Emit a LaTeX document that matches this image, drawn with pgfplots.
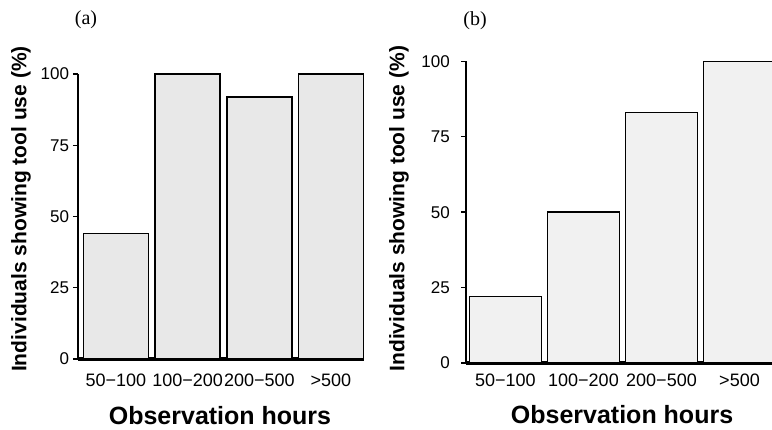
\documentclass[border=0pt]{standalone}
\usepackage{fontspec}
\setmainfont{Liberation Sans}
\newfontfamily\seriffont{Liberation Serif}
\usepackage{pgfplots}
\pgfplotsset{compat=1.18}
\pgfplotsset{
  toolaxis/.style={
    scale only axis,
    anchor=south west,
    axis x line*=bottom,
    axis y line*=left,
    every outer x axis line/.append style={-, line width=4pt},
    ymin=0, ymax=100,
    ytick={0,25,50,75,100},
    xtick={0,1,2,3},
    xticklabels={50−100,100−200,200−500,>500},
    tick align=outside,
    major tick length=5pt,
    xtick style={draw=none},
    ytick style={line width=1.4pt, black},
    /pgf/number format/assume math mode=true,
    yticklabel style={font=\fontsize{17}{20}\selectfont, anchor=east, inner sep=0pt},
    xticklabel style={font=\fontsize{18}{21}\selectfont, anchor=north, inner sep=0pt},
    ylabel={Individuals showing tool use (\%)},
    xlabel={Observation hours},
    ylabel style={font=\fontsize{21}{25}\selectfont\bfseries, anchor=center, inner sep=0pt},
    xlabel style={font=\fontsize{25}{30}\selectfont\bfseries, anchor=center, inner sep=0pt},
    clip=false,
  }
}
\begin{document}
\begin{tikzpicture}
\path[use as bounding box] (0pt,0pt) rectangle (772pt,429pt);
% panel (a)
\begin{axis}[toolaxis,
  at={(78pt,70pt)}, width=286pt, height=285pt,
  every outer y axis line/.append style={-, line width=1.8pt},
  xmin=-0.530, xmax=3.461,
  yticklabel style={xshift=-3.7pt},
  xticklabel style={yshift=-10pt},
  ylabel style={at={(axis description cs:-0.1993,0.526)}},
  xlabel style={at={(axis description cs:0.4965,-0.1980)}},
]
\addplot[ybar, bar width=0.907, fill=gray!18, draw=black, line width=1.5pt]
  coordinates {(0,44) (1,100) (2,92) (3,100)};
\end{axis}
% panel (b)
\begin{axis}[toolaxis,
  at={(466pt,66pt)}, width=314pt, height=301.7pt,
  every outer y axis line/.append style={-, line width=2.8pt},
  xmin=-0.506, xmax=3.519,
  yticklabel style={xshift=-11pt},
  xticklabel style={yshift=-6pt},
  ylabel style={at={(axis description cs:-0.2134,0.5116)}},
  xlabel style={at={(axis description cs:0.497,-0.1710)}},
]
\addplot[ybar, bar width=0.923, fill=gray!11, draw=black, line width=1.5pt]
  coordinates {(0,22) (1,50.1) (2,83.1) (3,100)};
\end{axis}
\node[font=\seriffont\fontsize{20}{24}\selectfont] at (86pt,409pt) {(a)};
\node[font=\seriffont\fontsize{20}{24}\selectfont] at (475pt,408pt) {(b)};
\end{tikzpicture}
\end{document}
